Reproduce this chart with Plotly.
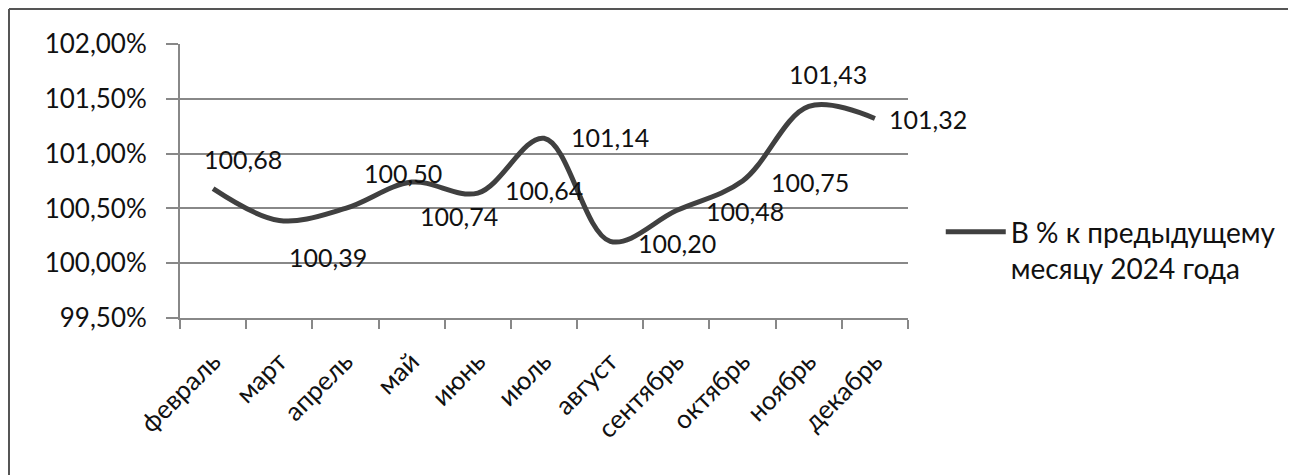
import plotly.graph_objects as go

months = ["февраль", "март", "апрель", "май", "июнь", "июль", "август",
          "сентябрь", "октябрь", "ноябрь", "декабрь"]
values = [100.68, 100.39, 100.50, 100.74, 100.64, 101.14, 100.20,
          100.48, 100.75, 101.43, 101.32]
labels = ["100,68", "100,39", "100,50", "100,74", "100,64", "101,14", "100,20",
          "100,48", "100,75", "101,43", "101,32"]
tick_vals = [99.5, 100.0, 100.5, 101.0, 101.5, 102.0]
tick_text = ["99,50%", "100,00%", "100,50%", "101,00%", "101,50%", "102,00%"]
series_name = "В % к предыдущему<br>месяцу 2024 года"

# label offsets in pixels (dx, dy) relative to each point
label_offsets = [(30, 30), (49, -37), (58, 35), (47, -34), (66, 3), (66, 1),
                 (67, -2), (69, 0), (67, -1), (19, 32), (53, 0)]

FONT = "Lato"
fig = go.Figure()
fig.add_trace(go.Scatter(
    x=months, y=values, mode="lines", name=series_name,
    line=dict(color="#404040", width=5, shape="spline", smoothing=1.0),
))

for m, v, t, (dx, dy) in zip(months, values, labels, label_offsets):
    fig.add_annotation(x=m, y=v, text=t, showarrow=False, xshift=dx, yshift=dy,
                       font=dict(family=FONT, size=25, color="#111111"))

fig.update_layout(
    width=1296, height=475,
    margin=dict(l=172, r=396, t=36, b=165, autoexpand=False),
    paper_bgcolor="white", plot_bgcolor="white",
    showlegend=True,
    legend=dict(x=1.045, y=0.405, xanchor="left", yanchor="top",
                font=dict(family=FONT, size=28, color="#111111"),
                itemwidth=60, valign="top", bgcolor="rgba(0,0,0,0)"),
    font=dict(family=FONT),
)
fig.update_xaxes(
    type="category", range=[-0.5, 10.5], tickangle=-45, tickson="boundaries",
    ticks="outside", ticklen=9, tickcolor="#888888", tickwidth=2,
    showline=True, linecolor="#888888", linewidth=2, showgrid=False,
    ticklabelstandoff=16,
    tickfont=dict(family=FONT, size=26, color="#111111"),
)
fig.update_yaxes(
    range=[99.5, 102.0], tickvals=tick_vals, ticktext=tick_text,
    ticks="outside", ticklen=12, tickcolor="#888888", tickwidth=2,
    showline=True, linecolor="#888888", linewidth=2,
    showgrid=True, gridcolor="#888888", gridwidth=2, zeroline=False,
    ticklabelstandoff=14,
    tickfont=dict(family=FONT, size=26, color="#111111"),
)

# outer frame (top and left edges)
fig.add_shape(type="line", xref="paper", yref="paper", x0=-0.2349, x1=1.6,
              y0=1.1277, y1=1.1277, line=dict(color="#555555", width=2))
fig.add_shape(type="line", xref="paper", yref="paper", x0=-0.2349, x1=-0.2349,
              y0=1.1277, y1=-0.7, line=dict(color="#555555", width=2))

fig.write_html("out.html")
